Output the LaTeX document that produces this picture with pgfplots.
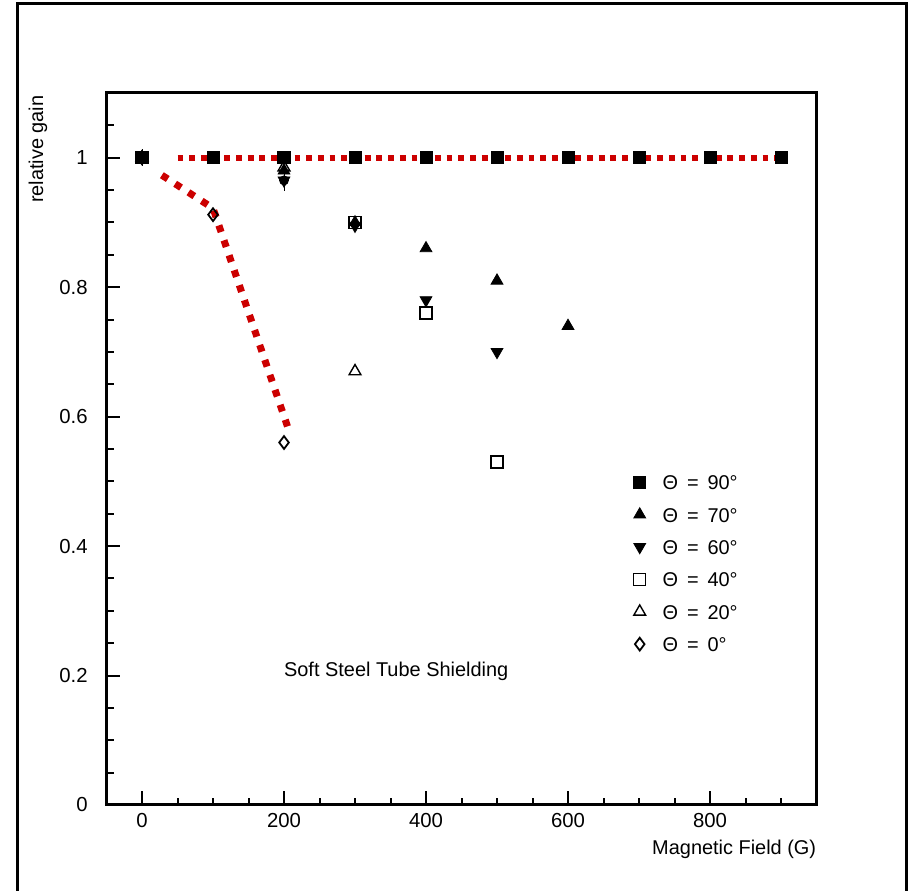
\documentclass[border=0pt]{standalone}
\usepackage{fontspec}
\setmainfont{Liberation Sans}
\usepackage{pgfplots}
\pgfplotsset{compat=1.18}
\definecolor{gainRed}{HTML}{CC0000}

\begin{document}
\begin{tikzpicture}
\useasboundingbox (0,0) rectangle (455.5bp,445.5bp);
\draw[line width=1.5bp] (8.5bp,0) -- (8.5bp,443.5bp) -- (453bp,443.5bp) -- (453bp,0);
\begin{axis}[
  at={(53.25bp,43bp)}, anchor=south west,
  scale only axis, width=355bp, height=356bp,
  xmin=-50, xmax=950, ymin=0, ymax=1.1,
  xtick={0,200,400,600,800},
  minor xtick={50,100,150,250,300,350,450,500,550,650,700,750,850,900},
  ytick={0,0.2,0.4,0.6,0.8,1},
  minor ytick={0.05,0.1,0.15,0.25,0.3,0.35,0.45,0.5,0.55,0.65,0.7,0.75,0.85,0.9,0.95,1.05},
  xtick pos=bottom, ytick pos=left, tick align=inside,
  major tick length=6.75bp, minor tick length=3.5bp,
  every tick/.style={black, line width=1bp},
  axis line style={line width=1.5bp},
  font=\fontsize{10}{12}\selectfont,
  /pgf/number format/assume math mode=true,
  xticklabel style={inner sep=0pt, yshift=-4bp, font=\fontsize{10.2}{12}\selectfont},
  yticklabel style={inner sep=0pt, xshift=-9.25bp, font=\fontsize{10.2}{12}\selectfont},
  xlabel={Magnetic Field (G)},
  xlabel style={at={(axis description cs:1,-0.0702)}, anchor=base east, inner sep=0pt},
  ylabel={relative gain},
  ylabel style={at={(axis description cs:-0.0965,0.997)}, anchor=east, inner sep=0pt},
  legend style={at={(axis cs:692,0.511)}, anchor=north west, draw=none, fill=none,
    inner sep=0pt, row sep=8.7bp, column sep=8.5bp,
    nodes={inner sep=0pt, text height=7.5bp, text depth=0pt},
    font=\fontsize{10}{12}\selectfont},
  legend cell align=left,
]
% theta = 90
\addplot[only marks, mark=square*, mark size=3bp, black] coordinates
  {(0,1) (100,1) (200,1) (300,1) (400,1) (500,1) (600,1) (700,1) (800,1) (900,1)};
\addlegendentry{Θ \,=\, 90°}
% theta = 70
\addplot[only marks, mark=triangle*, mark size=3.4bp, black] coordinates
  {(0,1) (200,0.98) (300,0.9) (400,0.86) (500,0.81) (600,0.74)};
\addlegendentry{Θ \,=\, 70°}
% theta = 60
\addplot[only marks, mark=triangle*, mark size=3.4bp, black, mark options={rotate=180}] coordinates
  {(0,1) (200,0.965) (300,0.895) (400,0.78) (500,0.70)};
\addlegendentry{Θ \,=\, 60°}
% theta = 40
\addplot[only marks, mark=square, mark size=3bp, black, mark options={line width=0.7bp}] coordinates
  {(0,1) (200,1) (300,0.9) (400,0.76) (500,0.53)};
\addlegendentry{Θ \,=\, 40°}
% theta = 20
\addplot[only marks, mark=triangle, mark size=3.4bp, black, mark options={line width=0.7bp}] coordinates
  {(0,1) (200,0.985) (300,0.67)};
\addlegendentry{Θ \,=\, 20°}
% theta = 0
\addplot[only marks, mark=diamond, mark size=3.2bp, black, mark options={line width=0.9bp}] coordinates
  {(0,1) (100,0.912) (200,0.56)};
\addlegendentry{Θ \,=\, 0°}
% error bars
\addplot[forget plot, only marks, mark=none, black, line width=0.9bp,
  error bars/.cd, y dir=both, y explicit, error mark=none] coordinates
  {(0,1) +- (0,0.013) (200,0.965) +- (0,0.016)};
% red guide lines
\addplot[forget plot, gainRed, line width=3bp, dash pattern=on 2.9bp off 2.95bp] coordinates
  {(50,1) (905,1)};
\addplot[forget plot, gainRed, line width=3.5bp, dash pattern=on 3.5bp off 4.4bp] coordinates
  {(28,0.973) (100,0.922) (208,0.575)};
\node[font=\fontsize{10}{12}\selectfont] at (axis cs:358,0.207) {Soft Steel Tube Shielding};
\end{axis}
\end{tikzpicture}
\end{document}
